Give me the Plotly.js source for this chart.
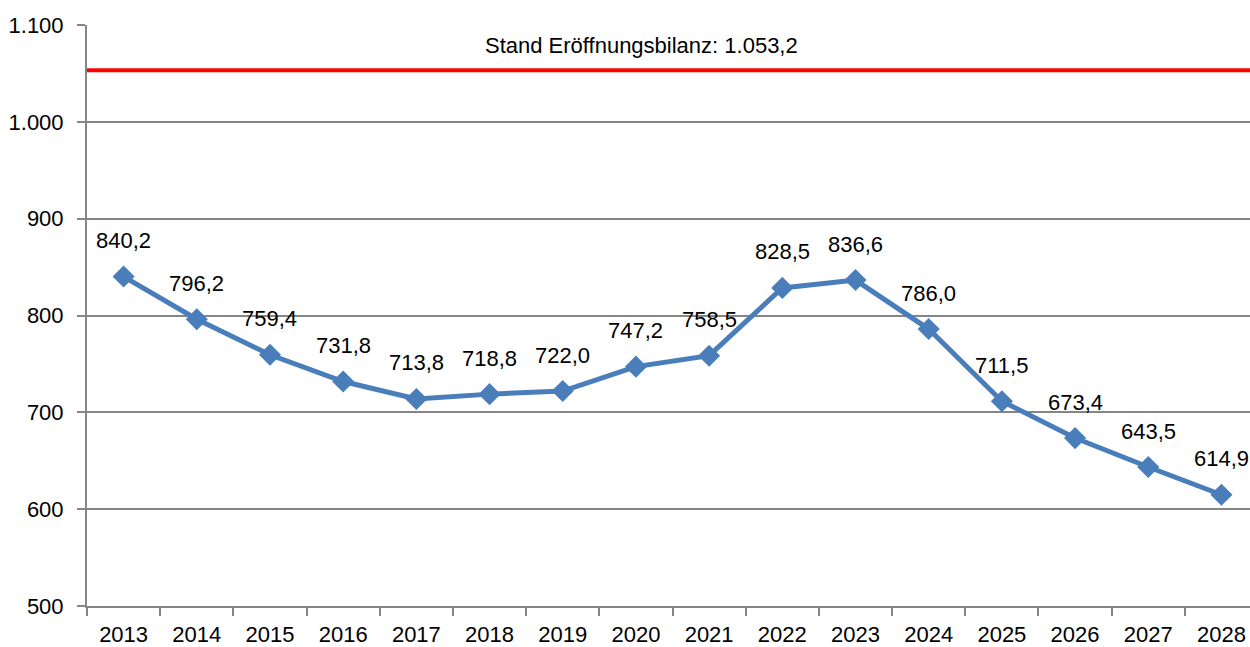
<!DOCTYPE html>
<html>
<head>
<meta charset="utf-8">
<script src="https://cdn.plot.ly/plotly-3.0.1.min.js"></script>
<style>
html,body{margin:0;padding:0;overflow:hidden;background:#fff;}
#chart{width:1250px;height:647px;}
</style>
</head>
<body>
<div id="chart"></div>
<script>
const years = ["2013","2014","2015","2016","2017","2018","2019","2020","2021","2022","2023","2024","2025","2026","2027","2028"];
const values = [840.2,796.2,759.4,731.8,713.8,718.8,722.0,747.2,758.5,828.5,836.6,786.0,711.5,673.4,643.5,614.9];
const refValue = 1053.2;
const refLabel = "Stand Eröffnungsbilanz: 1.053,2";

const FONT = '"Liberation Sans Narrow", "Arial Narrow", "Liberation Sans", Arial, sans-serif';
const fmt = v => v.toFixed(1).replace('.', ',');

const trace = {
  x: years, y: values, type: 'scatter', mode: 'lines+markers',
  line: {color: '#4A7EBB', width: 5},
  marker: {symbol: 'diamond', size: 17, color: '#4A7EBB'},
  hoverinfo: 'skip', cliponaxis: false
};

const annotations = values.map((v, i) => ({
  x: i, y: v, xref: 'x', yref: 'y', text: fmt(v),
  showarrow: false, yshift: 36, font: {family: FONT, size: 22, color: '#000'}
}));
annotations.push({
  x: 7.07, y: 1078.5, xref: 'x', yref: 'y', text: refLabel, showarrow: false,
  font: {family: FONT, size: 22, color: '#000'}
});

const layout = {
  width: 1250, height: 647,
  margin: {l: 87, r: 0, t: 25, b: 41},
  paper_bgcolor: '#fff', plot_bgcolor: '#fff',
  separators: ',.',
  showlegend: false,
  font: {family: FONT, size: 22, color: '#000'},
  xaxis: {
    type: 'category', range: [-0.5, 15.39],
    showgrid: false, showline: true, linecolor: '#868686', linewidth: 2,
    ticks: 'outside', tickson: 'boundaries', ticklen: 8, tickwidth: 2, tickcolor: '#868686',
    ticklabelstandoff: 8,
    tickfont: {family: FONT, size: 22, color: '#000'}, zeroline: false, fixedrange: true
  },
  yaxis: {
    range: [500, 1100], dtick: 100, tick0: 500, separatethousands: true,
    showgrid: true, gridcolor: '#868686', gridwidth: 2,
    showline: true, linecolor: '#868686', linewidth: 2,
    ticks: 'outside', ticklen: 8, tickwidth: 2, tickcolor: '#868686',
    ticklabelstandoff: 9,
    tickfont: {family: FONT, size: 22, color: '#000'}, zeroline: false, fixedrange: true
  },
  shapes: [{
    type: 'line', xref: 'paper', yref: 'y', x0: 0, x1: 1, y0: refValue, y1: refValue,
    line: {color: '#FF0000', width: 4}
  }],
  annotations: annotations
};

Plotly.newPlot('chart', [trace], layout, {displayModeBar: false, staticPlot: true});
</script>
</body>
</html>
